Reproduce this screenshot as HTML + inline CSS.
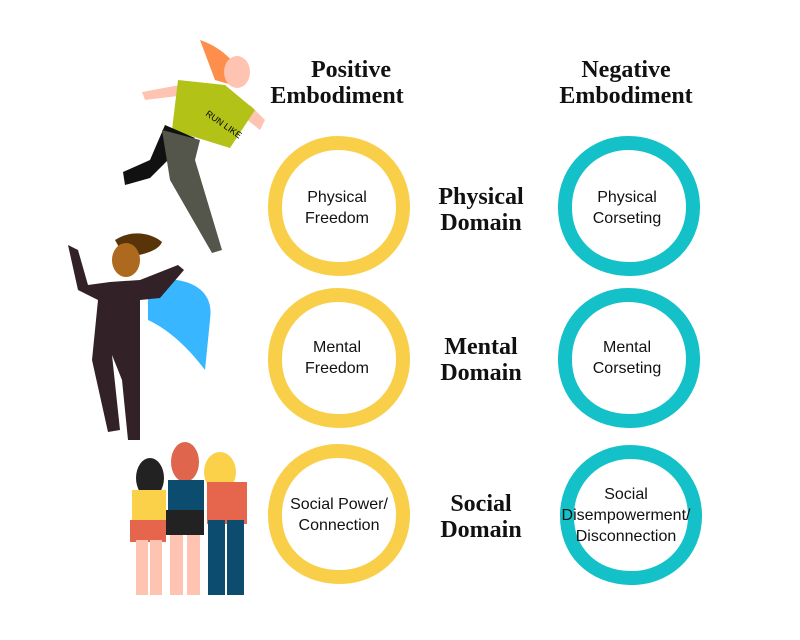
<!DOCTYPE html>
<html><head><meta charset="utf-8"><style>
html,body{margin:0;padding:0;background:#fff;}
svg{display:block}
.h{font-family:"Liberation Serif",serif;font-weight:bold;font-size:24px;fill:#111;text-anchor:middle}
.c{font-family:"Liberation Sans",sans-serif;font-size:16px;fill:#111;text-anchor:middle}
</style></head><body>
<svg width="800" height="640" viewBox="0 0 800 640" xmlns="http://www.w3.org/2000/svg">
<rect width="800" height="640" fill="#fff"/>
<text class="h" x="351" y="77">Positive</text>
<text class="h" x="337" y="103">Embodiment</text>
<text class="h" x="626" y="77">Negative</text>
<text class="h" x="626" y="103">Embodiment</text>
<text class="h" x="481" y="204">Physical</text>
<text class="h" x="481" y="230">Domain</text>
<text class="h" x="481" y="354">Mental</text>
<text class="h" x="481" y="380">Domain</text>
<text class="h" x="481" y="511">Social</text>
<text class="h" x="481" y="537">Domain</text>
<g fill="none" stroke-width="14">
<path stroke="#f9cf4a" d="M338,143 C375,143 402,170 403,205 C404,245 372,270 338,269 C300,268 274,242 275,205 C276,168 305,143 338,143Z"/>
<path stroke="#f9cf4a" d="M338,295 C375,295 402,322 403,357 C404,397 372,422 338,421 C300,420 274,394 275,357 C276,320 305,295 338,295Z"/>
<path stroke="#f9cf4a" d="M338,451 C375,451 402,478 403,513 C404,553 372,578 338,577 C300,576 274,550 275,513 C276,476 305,451 338,451Z"/>
<path stroke="#14c1c9" d="M628,143 C665,143 692,170 693,205 C694,245 662,270 628,269 C590,268 564,242 565,205 C566,168 595,143 628,143Z"/>
<path stroke="#14c1c9" d="M628,295 C665,295 692,322 693,357 C694,397 662,422 628,421 C590,420 564,394 565,357 C566,320 595,295 628,295Z"/>
<path stroke="#14c1c9" d="M630,452 C667,452 694,479 695,514 C696,554 664,579 630,578 C592,577 566,551 567,514 C568,477 597,452 630,452Z"/>
</g>
<text class="c" x="337" y="202">Physical</text>
<text class="c" x="337" y="223">Freedom</text>
<text class="c" x="627" y="202">Physical</text>
<text class="c" x="627" y="223">Corseting</text>
<text class="c" x="337" y="352">Mental</text>
<text class="c" x="337" y="373">Freedom</text>
<text class="c" x="627" y="352">Mental</text>
<text class="c" x="627" y="373">Corseting</text>
<text class="c" x="339" y="509">Social Power/</text>
<text class="c" x="339" y="530">Connection</text>
<text class="c" x="626" y="499">Social</text>
<text class="c" x="626" y="520">Disempowerment/</text>
<text class="c" x="626" y="541">Disconnection</text>
<path d="M200,40 C215,45 230,55 240,72 L232,85 L215,80 Z" fill="#fd8e4b"/>
<ellipse cx="237" cy="72" rx="13" ry="16" fill="#ffc3b1"/>
<path d="M142,92 L180,85 L178,96 L145,100 Z" fill="#ffc3b1"/>
<path d="M250,105 L265,120 L260,130 L245,118 Z" fill="#ffc3b1"/>
<path d="M178,80 L225,85 L255,110 L230,148 L172,130 Z" fill="#b2c217"/>
<text x="205" y="115" font-family="Liberation Sans,sans-serif" font-size="9" transform="rotate(35 205 115)">RUN LIKE</text>
<path d="M165,125 L195,138 L178,150 L150,178 L125,185 L123,172 L150,160 Z" fill="#111"/>
<path d="M162,130 L200,140 L195,160 L222,250 L212,253 L170,180 Z" fill="#54564c"/>
<path d="M148,280 C190,275 215,290 210,320 L205,370 C190,350 170,330 148,320 Z" fill="#38b6ff"/>
<path d="M115,240 C130,230 150,232 162,242 C158,252 140,255 125,258 Z" fill="#5a3409"/>
<ellipse cx="126" cy="260" rx="14" ry="17" fill="#ad691d"/>
<path d="M68,245 L78,250 L88,285 L110,282 L140,280 L178,265 L184,270 L160,298 L140,300 L140,345 L140,440 L128,440 L122,380 L112,355 L120,430 L108,432 L92,360 L98,300 L78,290 Z" fill="#322227"/>
<ellipse cx="150" cy="478" rx="14" ry="20" fill="#222"/>
<ellipse cx="185" cy="462" rx="14" ry="20" fill="#e0654d"/>
<ellipse cx="220" cy="472" rx="16" ry="20" fill="#fbd14a"/>
<rect x="132" y="490" width="34" height="35" fill="#fbd14a"/>
<rect x="130" y="520" width="36" height="22" fill="#e5664c"/>
<rect x="136" y="540" width="12" height="55" fill="#ffc3b1"/>
<rect x="150" y="540" width="12" height="55" fill="#ffc3b1"/>
<rect x="168" y="480" width="36" height="35" fill="#0c4c6e"/>
<rect x="166" y="510" width="38" height="25" fill="#222"/>
<rect x="170" y="535" width="13" height="60" fill="#ffc3b1"/>
<rect x="187" y="535" width="13" height="60" fill="#ffc3b1"/>
<rect x="207" y="482" width="40" height="42" fill="#e5664c"/>
<rect x="208" y="520" width="17" height="75" fill="#0c4c6e"/>
<rect x="227" y="520" width="17" height="75" fill="#0c4c6e"/>
</svg>
</body></html>
